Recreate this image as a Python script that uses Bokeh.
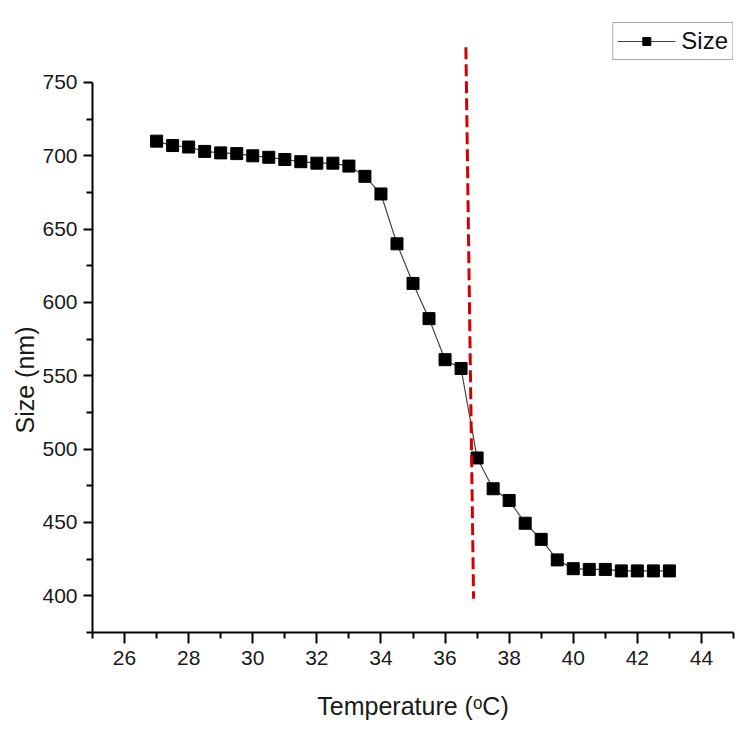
from bokeh.plotting import figure
from bokeh.models import FixedTicker, Range1d, Title
from bokeh.embed import file_html
from bokeh.resources import INLINE

# data
temperature = [27, 27.5, 28, 28.5, 29, 29.5, 30, 30.5, 31, 31.5, 32, 32.5, 33,
               33.5, 34, 34.5, 35, 35.5, 36, 36.5, 37, 37.5, 38, 38.5, 39, 39.5,
               40, 40.5, 41, 41.5, 42, 42.5, 43]
size_nm = [710, 707, 706, 703, 702, 701.5, 700, 699, 697.5, 696, 695, 695, 693,
           686, 674, 640, 613, 589, 561, 555, 494, 473, 465, 449.5, 438.5, 424.5,
           418.5, 418, 418, 417, 417, 417, 417]
marker_x = [36.65, 36.89]
marker_y = [774, 398]
x_major = [26, 28, 30, 32, 34, 36, 38, 40, 42, 44]
x_minor = [25, 27, 29, 31, 33, 35, 37, 39, 41, 43, 45]
y_major = [400, 450, 500, 550, 600, 650, 700, 750]
y_minor = [375, 425, 475, 525, 575, 625, 675, 725]

FONT = "Liberation Sans"

p = figure(width=750, height=738, output_backend="svg", toolbar_location=None,
           x_range=Range1d(25, 45), y_range=Range1d(375, 790.9),
           min_border_left=92, min_border_right=17, min_border_top=22,
           min_border_bottom=106)
p.outline_line_color = None
p.xgrid.visible = False
p.ygrid.visible = False

p.line(temperature, size_nm, line_color="#444444", line_width=1.2, legend_label="Size")
p.scatter(temperature, size_nm, marker="square", size=12, fill_color="black",
          line_color="black", legend_label="Size")
p.line(marker_x, marker_y, line_color="#d40000", line_width=3, line_dash="12 5")

for ax in (p.xaxis[0], p.yaxis[0]):
    ax.axis_line_width = 2
    ax.major_tick_line_width = 2
    ax.minor_tick_line_width = 2
    ax.major_tick_in = 0
    ax.minor_tick_in = 0
    ax.major_label_text_font = FONT
    ax.major_label_text_font_size = "21px"
    ax.major_label_text_color = "#1a1a1a"
    ax.axis_label_text_font = FONT
    ax.axis_label_text_font_style = "normal"
    ax.axis_label_text_font_size = "25px"
    ax.axis_label_text_color = "#1a1a1a"

p.xaxis.ticker = FixedTicker(ticks=x_major, minor_ticks=x_minor)
p.xaxis.major_tick_out = 11
p.xaxis.minor_tick_out = 6
p.xaxis.major_label_standoff = 7
p.xaxis.axis_label = "Temperature (ᵒC)"
p.xaxis.axis_label_standoff = 24

p.yaxis.ticker = FixedTicker(ticks=y_major, minor_ticks=y_minor)
p.yaxis.bounds = (375, 750)
p.yaxis.major_tick_out = 9
p.yaxis.minor_tick_out = 6
p.yaxis.major_label_standoff = 6

ytitle = Title(text="Size (nm)", align="left", offset=199, vertical_align="middle",
               text_font=FONT, text_font_size="25px", text_font_style="normal",
               text_color="#1a1a1a", standoff=0)
p.add_layout(ytitle, "left")

lg = p.legend[0]
lg.location = "top_right"
lg.margin = 0
lg.padding = 4
lg.glyph_width = 58
lg.label_standoff = 6
lg.label_text_font = FONT
lg.label_text_font_size = "24px"
lg.label_text_color = "#111111"
lg.border_line_color = "#555555"
lg.border_line_width = 1
lg.background_fill_alpha = 1

open("out.html", "w").write(file_html(p, INLINE))
